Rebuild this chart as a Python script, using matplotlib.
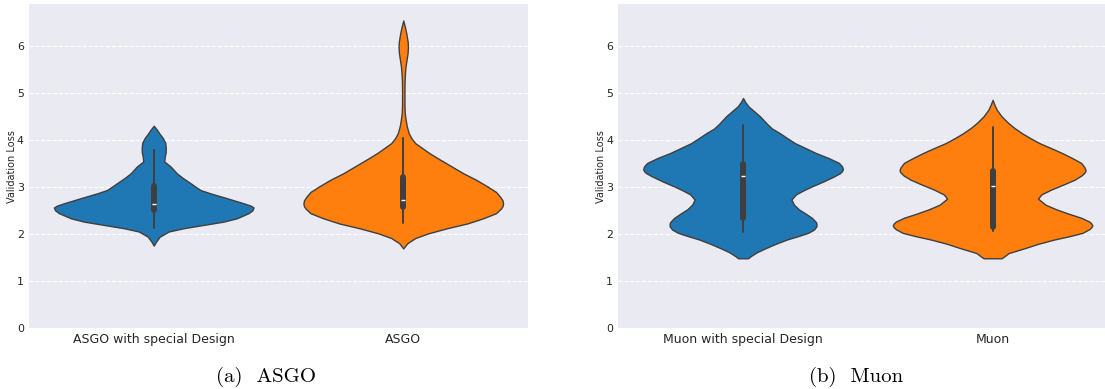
import numpy as np
import matplotlib
matplotlib.use("Agg")
import matplotlib.pyplot as plt

# ---------------- data ----------------
categories_a = ["ASGO with special Design", "ASGO"]
categories_b = ["Muon with special Design", "Muon"]

# violin density profiles: loss values and relative half-widths
asgo_special_y = [1.76, 1.85, 1.95, 2.06, 2.13, 2.20, 2.27, 2.34, 2.45, 2.51, 2.57, 2.61,
                  2.66, 2.77, 2.87, 2.94, 3.01, 3.10, 3.20, 3.30, 3.44, 3.55, 3.65, 3.75,
                  3.85, 3.95, 4.05, 4.15, 4.23, 4.31]
asgo_special_w = [0, 2.5, 6, 15, 30, 50, 70, 83, 95, 98.8, 100, 97,
                  90, 73, 57, 47, 42, 36, 29, 23, 17, 10.5, 11, 12,
                  12, 11.5, 9, 5.5, 3, 0]

asgo_y = [1.70, 1.81, 1.92, 2.02, 2.13, 2.23, 2.34, 2.45, 2.55, 2.60, 2.65, 2.72,
          2.80, 2.90, 3.01, 3.16, 3.30, 3.45, 3.60, 3.73, 3.85, 3.94, 4.05, 4.15,
          4.30, 4.44, 4.58, 4.75, 5.00, 5.25, 5.45, 5.57, 5.70, 5.85, 5.99, 6.10,
          6.28, 6.40, 6.55]
asgo_w = [0, 4, 12, 25, 44, 64, 80, 93, 98, 99.5, 100, 99.5,
          97, 93, 85, 73, 60, 48, 36, 26, 18, 12, 8, 5.5,
          3.5, 2.4, 1.5, 1.2, 1.2, 1.3, 1.8, 2.3, 3.2, 4.3, 4.7, 4.4,
          3.0, 1.8, 0]

muon_special_y = [1.49, 1.54, 1.62, 1.70, 1.80, 1.89, 1.96, 2.03, 2.10, 2.17, 2.22, 2.26,
                  2.35, 2.45, 2.53, 2.63, 2.74, 2.85, 2.94, 3.02, 3.12, 3.23, 3.30, 3.34,
                  3.38, 3.42, 3.45, 3.52, 3.62, 3.73, 3.84, 3.94, 4.05, 4.15, 4.25, 4.35,
                  4.51, 4.62, 4.72, 4.82, 4.90]
muon_special_w = [5, 8, 14, 22, 33, 44, 55, 65, 71, 73.5, 73.6, 73,
                  69, 62, 56, 51, 48.5, 53, 61, 69, 80, 91, 97, 99,
                  100, 99.6, 99, 96, 86, 73, 62, 52, 44, 37, 29, 24,
                  17, 11, 5.5, 2, 0]

muon_y = [1.49, 1.55, 1.60, 1.71, 1.80, 1.89, 1.96, 2.03, 2.11, 2.15, 2.19, 2.23,
          2.27, 2.35, 2.44, 2.53, 2.63, 2.76, 2.85, 2.95, 3.05, 3.16, 3.25, 3.30,
          3.34, 3.38, 3.43, 3.52, 3.62, 3.73, 3.84, 3.94, 4.05, 4.15, 4.26, 4.37,
          4.51, 4.65, 4.76, 4.86]
muon_w = [9, 13, 16, 33, 46, 62, 77, 90, 97, 99, 100, 99,
          97, 89, 76, 64, 53, 45.5, 49, 58.5, 70, 82, 89, 91.5,
          93, 93, 92, 88.7, 80, 69.6, 58, 47, 37.5, 29.6, 22, 15.7,
          9, 4.2, 1.8, 0]

# inner box statistics: (whisker low, q1, median, q3, whisker high)
asgo_special_box = (2.13, 2.51, 2.64, 3.03, 3.80)
asgo_box = (2.25, 2.58, 2.74, 3.21, 4.05)
muon_special_box = (2.055, 2.35, 3.23, 3.49, 4.32)
muon_box = (2.07, 2.16, 3.02, 3.34, 4.28)

colors = ["#1f77b4", "#ff7f0e"]
captions = ["(a)  ASGO", "(b)  Muon"]

# ---------------- figure ----------------
W, H = 1105, 389
fig = plt.figure(figsize=(W / 100, H / 100), dpi=100)


def px_axes(left, top, width, height):
    return fig.add_axes([left / W, 1 - (top + height) / H, width / W, height / H])


ax1 = px_axes(29, 4, 499, 324.3)
ax2 = px_axes(618.3, 4, 499, 324.3)

LINE = "#3f3f3f"
TXT = "#262626"


def draw(ax, cats, profiles, boxes):
    ax.set_facecolor("#EAEAF2")
    for s in ax.spines.values():
        s.set_visible(False)
    ax.set_axisbelow(True)
    ax.yaxis.grid(True, color="white", linestyle="--", linewidth=0.8)
    ax.xaxis.grid(False)
    stats = []
    for (y, w), b in zip(profiles, boxes):
        stats.append(dict(coords=np.array(y, float), vals=np.array(w, float),
                          mean=b[2], median=b[2], min=y[0], max=y[-1]))
    positions = list(range(len(cats)))
    parts = ax.violin(stats, positions=positions, widths=0.8, showextrema=False)
    for body, c in zip(parts["bodies"], colors):
        body.set_facecolor(c)
        body.set_edgecolor(LINE)
        body.set_linewidth(1.0)
        body.set_alpha(1)
        body.set_joinstyle("round")
        body.set_zorder(2)
    for pos, b in zip(positions, boxes):
        lo, q1, med, q3, hi = b
        ax.plot([pos, pos], [lo, hi], color=LINE, lw=1.4, solid_capstyle="round", zorder=3)
        ax.plot([pos, pos], [q1, q3], color=LINE, lw=4.3, solid_capstyle="round", zorder=3)
        ax.plot([pos], [med], marker="_", ms=3.4, mew=1.0, color="white", zorder=4)
    ax.set_xlim(-0.5, len(cats) - 0.5)
    ax.set_ylim(0, 6.9)
    ax.set_xticks(positions)
    ax.set_xticklabels(cats, fontsize=9, color=TXT)
    ax.set_yticks(range(0, 7))
    ax.set_yticklabels([str(v) for v in range(0, 7)], fontsize=7.9, color=TXT)
    ax.tick_params(length=0, pad=3.7)
    ax.set_ylabel("Validation Loss", fontsize=7, color=TXT)
    ax.yaxis.set_label_coords(-0.0245, 0.5)


draw(ax1, categories_a, [(asgo_special_y, asgo_special_w), (asgo_y, asgo_w)],
     [asgo_special_box, asgo_box])
draw(ax2, categories_b, [(muon_special_y, muon_special_w), (muon_y, muon_w)],
     [muon_special_box, muon_box])

fig.text(266 / W, 1 - 382 / H, captions[0], family="cmr10", fontsize=15,
         ha="center", va="baseline", color="black")
fig.text(856 / W, 1 - 382 / H, captions[1], family="cmr10", fontsize=15,
         ha="center", va="baseline", color="black")

fig.savefig("out.png", dpi=100, facecolor="white")
